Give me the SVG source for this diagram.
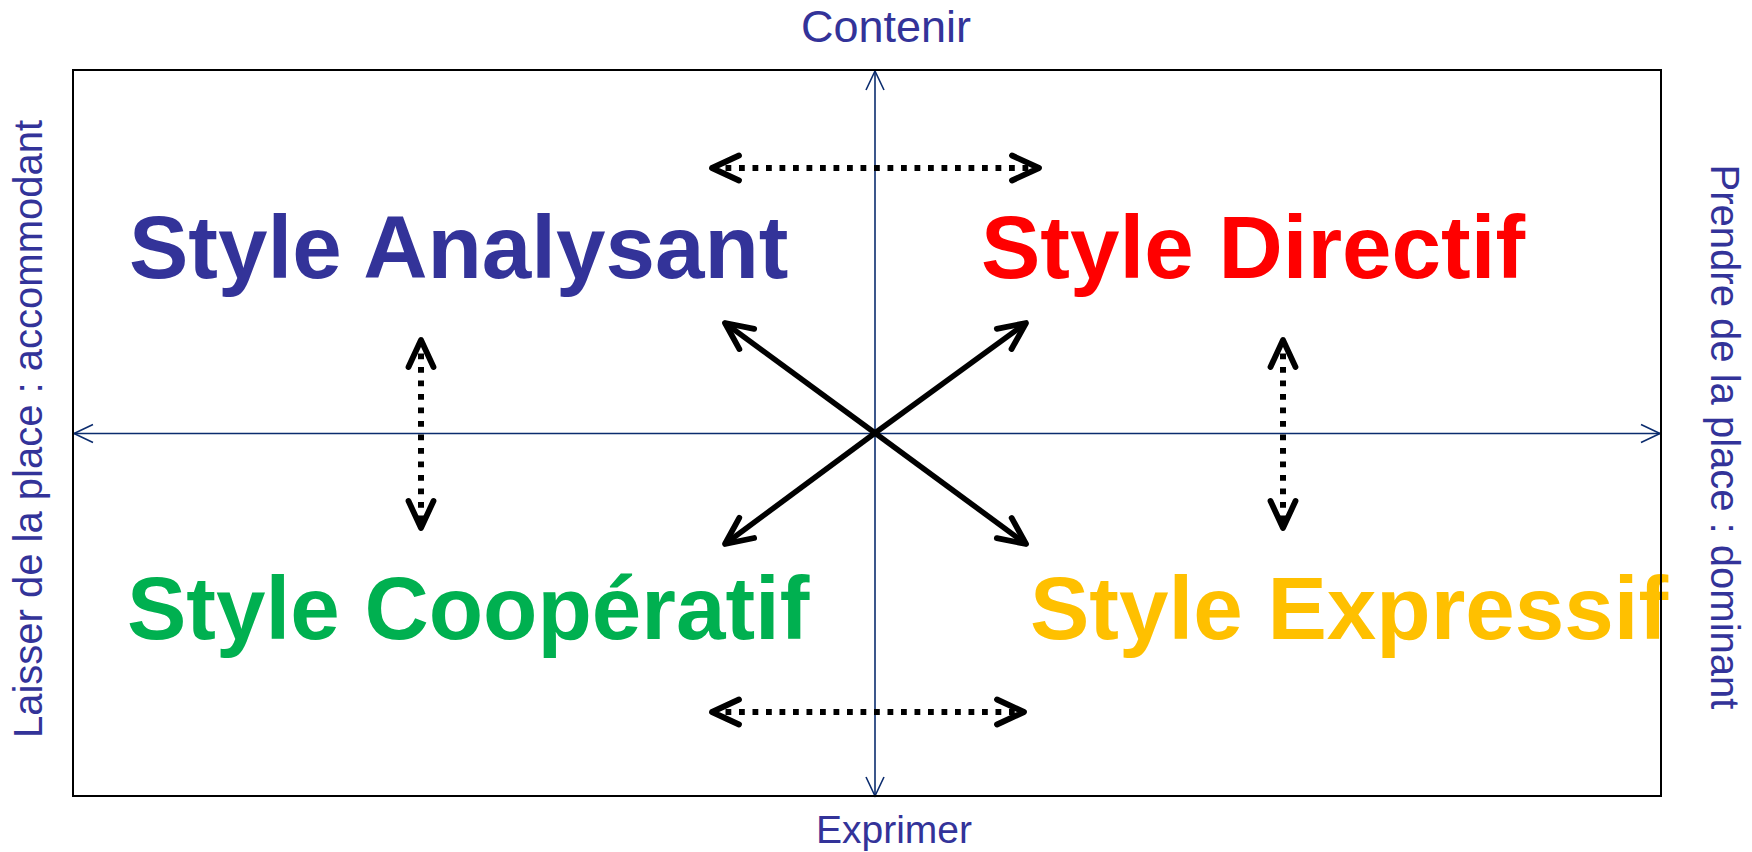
<svg xmlns="http://www.w3.org/2000/svg" width="1752" height="852" viewBox="0 0 1752 852">
  <style>
    .lbl { font-family: "Liberation Sans", Arial, sans-serif; fill: #333399; }
    .title { font-family: "Liberation Sans", Arial, sans-serif; font-weight: bold; font-size: 89px; }
    .axis { stroke: #0B2C6E; stroke-width: 1.6; fill: none; }
    .bold { stroke: #000; stroke-width: 5.5; fill: none; }
    .dot { stroke: #000; stroke-width: 6; fill: none; stroke-dasharray: 5.8 7.7; }
  </style>
  <defs>
    <marker id="axhead" markerUnits="userSpaceOnUse" markerWidth="30" markerHeight="30" viewBox="-25 -15 30 30" refX="0" refY="0" orient="auto-start-reverse" overflow="visible">
      <path d="M-19,-9 L0,0 L-19,9" fill="none" stroke="#0B2C6E" stroke-width="1.6"/>
    </marker>
    <marker id="chev" markerUnits="userSpaceOnUse" markerWidth="40" markerHeight="40" viewBox="-35 -20 40 40" refX="0" refY="0" orient="auto-start-reverse" overflow="visible">
      <path d="M-27,-12.5 L0,0 L-27,12.5" fill="none" stroke="#000" stroke-width="5.8" stroke-linecap="round" stroke-linejoin="round"/>
    </marker>
  </defs>
  <rect x="0" y="0" width="1752" height="852" fill="#fff"/>

  <g id="axes">
    <line class="axis" x1="875" y1="796" x2="875" y2="71" marker-start="url(#axhead)" marker-end="url(#axhead)"/>
    <line class="axis" x1="74" y1="433.5" x2="1660" y2="433.5" marker-start="url(#axhead)" marker-end="url(#axhead)"/>
  </g>

  <g id="label-contenir"><text class="lbl" x="886" y="42" font-size="45" text-anchor="middle">Contenir</text></g>
  <g id="label-exprimer"><text class="lbl" x="894" y="843" font-size="39" text-anchor="middle">Exprimer</text></g>
  <g id="label-laisser"><text class="lbl" font-size="40" text-anchor="middle" transform="translate(42,429) rotate(-90)">Laisser de la place : accommodant</text></g>
  <g id="label-prendre"><text class="lbl" font-size="40" text-anchor="middle" transform="translate(1711,437) rotate(90)">Prendre de la place : dominant</text></g>

  <g id="style-analysant"><text class="title" x="129" y="278" fill="#333399">Style Analysant</text></g>
  <g id="style-directif"><text class="title" x="981" y="278" fill="#FF0000">Style Directif</text></g>
  <g id="style-cooperatif"><text class="title" x="127" y="639" fill="#00B050">Style Coopératif</text></g>
  <g id="style-expressif"><text class="title" x="1030" y="639" fill="#FFC000">Style Expressif</text></g>

  <g id="connectors">
    <line class="bold" x1="875" y1="433" x2="725" y2="323" marker-end="url(#chev)"/>
    <line class="bold" x1="875" y1="433" x2="1026" y2="323" marker-end="url(#chev)"/>
    <line class="bold" x1="875" y1="433" x2="725" y2="544" marker-end="url(#chev)"/>
    <line class="bold" x1="875" y1="433" x2="1026" y2="544" marker-end="url(#chev)"/>
    <line class="dot" x1="712" y1="168" x2="1039" y2="168" marker-start="url(#chev)" marker-end="url(#chev)"/>
    <line class="dot" x1="712" y1="712" x2="1024" y2="712" marker-start="url(#chev)" marker-end="url(#chev)"/>
    <line class="dot" x1="421" y1="340" x2="421" y2="528" marker-start="url(#chev)" marker-end="url(#chev)"/>
    <line class="dot" x1="1283" y1="340" x2="1283" y2="528" marker-start="url(#chev)" marker-end="url(#chev)"/>
  </g>

  <g id="frame"><rect x="73" y="70" width="1588" height="726" fill="none" stroke="#000" stroke-width="2"/></g>
</svg>
